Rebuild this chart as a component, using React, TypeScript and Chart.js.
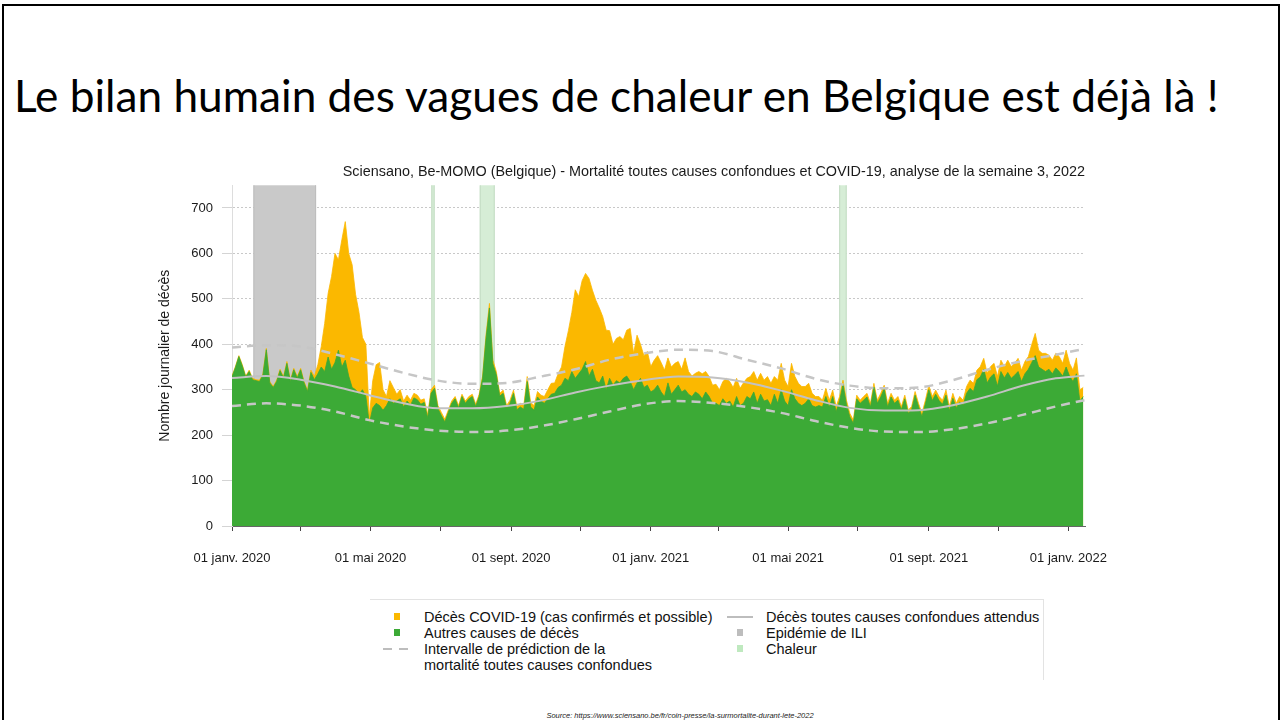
import { useEffect, useRef } from "react";
import { Chart, registerables } from "chart.js";

Chart.register(...registerables);

// ---------- DATA ----------
// Daily deaths sampled every 3 days starting 01 Jan 2020 (day 0)
const SAMPLE_START_DAY = 0;
const SAMPLE_STEP_DAYS = 3;

// Total deaths (top of yellow area = COVID-19 + other causes)
const totalDeces = [
  330, 351, 375, 355, 330, 343, 325, 322, 321, 335,
  391, 318, 307, 321, 345, 329, 362, 321, 347, 329,
  347, 318, 299, 343, 329, 355, 395, 446, 512, 549,
  600, 586, 630, 670, 600, 575, 510, 470, 415, 400,
  240, 320, 355, 360, 300, 285, 320, 305, 290, 300,
  275, 288, 277, 292, 288, 277, 280, 245, 300, 310,
  265, 250, 235, 255, 275, 285, 265, 290, 275, 285,
  290, 268, 290, 330, 420, 490, 365, 340, 292, 299,
  265, 277, 299, 263, 270, 265, 329, 272, 265, 296,
  288, 285, 300, 314, 315, 335, 350, 395, 430, 470,
  520, 505, 540, 556, 545, 519, 497, 480, 461, 431,
  430, 400, 413, 417, 410, 431, 435, 380, 420, 400,
  375, 384, 351, 365, 375, 360, 343, 370, 350, 358,
  362, 345, 370, 340, 330, 336, 340, 335, 340, 329,
  310, 312, 300, 318, 325, 318, 305, 325, 303, 315,
  325, 329, 340, 321, 336, 321, 329, 314, 329, 321,
  358, 321, 307, 358, 329, 314, 307, 307, 314, 292,
  285, 285, 277, 303, 277, 299, 263, 285, 321, 277,
  248, 233, 288, 277, 285, 292, 270, 314, 277, 292,
  310, 270, 292, 277, 285, 263, 288, 255, 263, 296,
  270, 248, 277, 310, 285, 299, 285, 277, 299, 263,
  292, 270, 285, 277, 307, 321, 314, 343, 351, 369,
  336, 351, 358, 329, 365, 351, 365, 351, 358, 369,
  343, 362, 373, 400, 424, 387, 380, 380, 376, 365,
  380, 373, 358, 387, 358, 343, 370, 300, 305,
];

// Other causes of death (green area)
const autresCauses = [
  328, 349, 373, 352, 328, 340, 322, 320, 318, 332,
  388, 315, 305, 318, 342, 326, 358, 318, 344, 326,
  344, 315, 296, 338, 322, 335, 350, 340, 372, 345,
  360, 387, 350, 365, 330, 305, 300, 290, 300, 285,
  225, 260, 270, 265, 255, 265, 280, 270, 275, 280,
  262, 275, 266, 282, 278, 268, 272, 238, 292, 303,
  258, 243, 229, 250, 270, 280, 260, 285, 270, 280,
  285, 263, 285, 325, 413, 480, 357, 333, 286, 292,
  259, 270, 292, 256, 262, 257, 318, 262, 255, 284,
  275, 270, 280, 290, 292, 305, 310, 325, 320, 340,
  325, 335, 345, 362, 330, 345, 320, 315, 330, 300,
  325, 310, 320, 315, 325, 330, 318, 300, 315, 325,
  305, 310, 295, 300, 310, 295, 285, 315, 290, 300,
  310, 295, 300, 290, 285, 295, 290, 280, 295, 285,
  270, 270, 265, 280, 270, 275, 262, 285, 265, 270,
  285, 280, 295, 270, 290, 275, 278, 265, 290, 270,
  300, 275, 265, 300, 280, 270, 265, 270, 280, 265,
  262, 265, 262, 285, 262, 285, 252, 275, 312, 268,
  240, 226, 280, 270, 277, 284, 262, 306, 270, 284,
  302, 262, 284, 270, 277, 256, 280, 248, 256, 288,
  263, 241, 269, 300, 276, 290, 276, 268, 288, 254,
  281, 260, 273, 266, 292, 303, 296, 322, 328, 345,
  315, 328, 335, 308, 340, 326, 338, 325, 332, 340,
  318, 335, 345, 360, 375, 350, 345, 340, 345, 335,
  348, 340, 330, 350, 330, 318, 335, 275, 285,
];

// Smooth baseline curves
const curveDays = [0, 30, 60, 90, 120, 150, 180, 210, 240, 270, 300, 330, 360, 390, 420, 450, 480, 510, 540, 570, 600, 630, 660, 690, 720, 745];
const decesAttendus = [326, 330, 322, 307, 288, 270, 259, 259, 264, 276, 294, 309, 321, 329, 327, 316, 298, 277, 260, 254, 255, 266, 285, 308, 325, 331];
const borneSuperieure = [393, 398, 395, 378, 358, 337, 320, 313, 315, 329, 345, 366, 380, 388, 385, 366, 347, 324, 309, 303, 305, 321, 344, 363, 377, 390];
const borneInferieure = [264, 270, 265, 252, 233, 219, 210, 207, 210, 220, 235, 252, 268, 275, 271, 262, 249, 231, 216, 208, 207, 213, 226, 244, 263, 277];

// Shaded periods (in days since 01 Jan 2020)
const periodesILI = [[18.7, 73.5]];
const periodesChaleur = [[174.2, 177.1], [216.5, 229.6], [530.7, 537.2]];

// Axes
const xMaxDay = 745.5;
const tickDays = [0, 60, 121, 182, 244, 305, 366, 425, 486, 547, 609, 670, 731];
const tickLabels = ["01 janv. 2020", "", "01 mai 2020", "", "01 sept. 2020", "", "01 janv. 2021", "", "01 mai 2021", "", "01 sept. 2021", "", "01 janv. 2022"];
const yTicks = [0, 100, 200, 300, 400, 500, 600, 700];
const yMax = 750;

const TITRE_SLIDE = "Le bilan humain des vagues de chaleur en Belgique est déjà là !";
const TITRE_GRAPHE = "Sciensano, Be-MOMO (Belgique) - Mortalité toutes causes confondues et COVID-19, analyse de la semaine 3, 2022";
const TITRE_Y = "Nombre journalier de décès";
const SOURCE = "Source: https://www.sciensano.be/fr/coin-presse/la-surmortalite-durant-lete-2022";

// ---------- COLOURS ----------
const JAUNE = "#fbb800";
const VERT = "#3caa36";
const GRIS_LIGNE = "#c2c2c2";
const GRIS_ILI = "#c9c9c9";
const VERT_CHALEUR = "#d6edd6";

const FONT = "'Liberation Sans', Arial, sans-serif";

const toPoints = (vals: number[]) =>
  vals.map((v, i) => ({ x: SAMPLE_START_DAY + i * SAMPLE_STEP_DAYS, y: v }));
const curvePoints = (vals: number[]) => vals.map((v, i) => ({ x: curveDays[i], y: v }));

const bandsPlugin = {
  id: "bands",
  beforeDatasetsDraw(chart: any) {
    const { ctx, chartArea, scales } = chart;
    const x = scales.x;
    const drawSet = (periods: number[][], fill: string, stroke: string) => {
      periods.forEach(([a, b]) => {
        const x0 = x.getPixelForValue(a);
        const x1 = x.getPixelForValue(b);
        ctx.fillStyle = fill;
        ctx.fillRect(x0, chartArea.top, x1 - x0, chartArea.bottom - chartArea.top);
        ctx.strokeStyle = stroke;
        ctx.lineWidth = 1;
        ctx.beginPath();
        ctx.moveTo(x0 + 0.5, chartArea.top);
        ctx.lineTo(x0 + 0.5, chartArea.bottom);
        ctx.moveTo(x1 - 0.5, chartArea.top);
        ctx.lineTo(x1 - 0.5, chartArea.bottom);
        ctx.stroke();
      });
    };
    ctx.save();
    drawSet(periodesILI, GRIS_ILI, "#bdbdbd");
    drawSet(periodesChaleur, VERT_CHALEUR, "#c3dcc3");
    ctx.restore();
  },
};

type LegendItem = { marker: "square" | "line" | "dash" | "none"; color: string; text: string };
const legendeGauche: LegendItem[] = [
  { marker: "square", color: JAUNE, text: "Décès COVID-19 (cas confirmés et possible)" },
  { marker: "square", color: VERT, text: "Autres causes de décès" },
  { marker: "dash", color: "#bdbdbd", text: "Intervalle de prédiction de la" },
  { marker: "none", color: "", text: "mortalité toutes causes confondues" },
];
const legendeDroite: LegendItem[] = [
  { marker: "line", color: "#bdbdbd", text: "Décès toutes causes confondues attendus" },
  { marker: "square", color: "#bdbdbd", text: "Epidémie de ILI" },
  { marker: "square", color: "#bfe9bf", text: "Chaleur" },
];

function LegendColumn({ items, markerX, textX }: { items: LegendItem[]; markerX: number; textX: number }) {
  const rowTop = 608.5;
  const rowH = 16;
  return (
    <>
      {items.map((it, i) => {
        const cy = rowTop + i * rowH + 8;
        let marker = null;
        if (it.marker === "square") {
          marker = <div style={{ position: "absolute", left: markerX - 3, top: cy - 4, width: 6, height: 7, background: it.color }} />;
        } else if (it.marker === "line") {
          marker = <div style={{ position: "absolute", left: markerX - 13, top: cy - 1, width: 26, height: 2, background: it.color }} />;
        } else if (it.marker === "dash") {
          marker = (
            <>
              <div style={{ position: "absolute", left: markerX - 14, top: cy - 1, width: 9, height: 2, background: it.color }} />
              <div style={{ position: "absolute", left: markerX + 2, top: cy - 1, width: 9, height: 2, background: it.color }} />
            </>
          );
        }
        return (
          <div key={i}>
            {marker}
            <div style={{ position: "absolute", left: textX, top: cy - 8, height: 16, lineHeight: "16px", fontSize: 14.5, color: "#111", whiteSpace: "nowrap", fontFamily: FONT }}>
              {it.text}
            </div>
          </div>
        );
      })}
    </>
  );
}

export default function App() {
  const ref = useRef<HTMLCanvasElement>(null);

  useEffect(() => {
    if (!ref.current) return;
    Chart.defaults.font.family = FONT;
    const chart = new Chart(ref.current, {
      type: "line",
      data: {
        datasets: [
          {
            label: "Décès COVID-19 (cas confirmés et possible)",
            data: toPoints(totalDeces),
            borderColor: JAUNE,
            backgroundColor: JAUNE,
            borderWidth: 0.8,
            fill: "origin",
            pointRadius: 0,
            tension: 0,
            order: 10,
          },
          {
            label: "Autres causes de décès",
            data: toPoints(autresCauses),
            borderColor: VERT,
            backgroundColor: VERT,
            borderWidth: 0.8,
            fill: "origin",
            pointRadius: 0,
            tension: 0,
            order: 9,
          },
          {
            label: "Décès toutes causes confondues attendus",
            data: curvePoints(decesAttendus),
            borderColor: GRIS_LIGNE,
            borderWidth: 2,
            fill: false,
            pointRadius: 0,
            cubicInterpolationMode: "monotone",
            order: 3,
          },
          {
            label: "Borne supérieure",
            data: curvePoints(borneSuperieure),
            borderColor: "#c6c6c6",
            borderWidth: 2.5,
            borderDash: [9, 6],
            fill: false,
            pointRadius: 0,
            cubicInterpolationMode: "monotone",
            order: 2,
          },
          {
            label: "Borne inférieure",
            data: curvePoints(borneInferieure),
            borderColor: "#c6c6c6",
            borderWidth: 2.5,
            borderDash: [9, 6],
            fill: false,
            pointRadius: 0,
            cubicInterpolationMode: "monotone",
            order: 1,
          },
        ],
      },
      options: {
        animation: false,
        responsive: false,
        maintainAspectRatio: false,
        layout: { padding: { left: 0, right: 45, top: 0, bottom: 0 } },
        plugins: {
          legend: { display: false },
          tooltip: { enabled: false },
          title: {
            display: true,
            text: TITRE_GRAPHE,
            align: "end",
            color: "#1a1a1a",
            font: { family: FONT, size: 14.4, weight: "normal" },
            padding: { top: 8, bottom: 5 },
          },
        },
        scales: {
          x: {
            type: "linear",
            min: 0,
            max: xMaxDay,
            afterBuildTicks: (s: any) => {
              s.ticks = tickDays.map((v) => ({ value: v }));
            },
            afterFit: (s: any) => {
              s.height = 49;
            },
            ticks: {
              autoSkip: false,
              maxRotation: 0,
              minRotation: 0,
              padding: 20,
              color: "#1a1a1a",
              font: { family: FONT, size: 13 },
              callback: (_v: any, i: number) => tickLabels[i],
            },
            grid: {
              drawOnChartArea: false,
              drawTicks: true,
              tickLength: 5,
              tickColor: "#444444",
            },
            border: { color: "#666666", width: 1 },
          },
          y: {
            min: 0,
            max: yMax,
            afterBuildTicks: (s: any) => {
              s.ticks = yTicks.map((v) => ({ value: v }));
            },
            afterFit: (s: any) => {
              s.width = 82;
            },
            ticks: {
              padding: 9,
              color: "#1a1a1a",
              font: { family: FONT, size: 13 },
            },
            grid: {
              color: "#c8c8c8",
              lineWidth: 1,
              tickColor: "#d4d4d4",
              tickLength: 10,
              tickBorderDash: [],
            },
            border: { color: "#dddddd", width: 1, dash: [2, 2] },
            title: {
              display: true,
              text: TITRE_Y,
              color: "#1a1a1a",
              font: { family: FONT, size: 14 },
              padding: { top: 7, bottom: 0 },
            },
          },
        },
      },
      plugins: [bandsPlugin],
    } as any);
    return () => chart.destroy();
  }, []);

  return (
    <div style={{ position: "absolute", left: 0, top: 0, width: 1283, height: 720, background: "#ffffff", overflow: "hidden" }}>
      <div style={{ position: "absolute", left: 2, top: 4, width: 1278, height: 760, border: "2px solid #000", boxSizing: "border-box" }} />
      <div style={{ position: "absolute", left: 14, top: 68, fontFamily: "Lato, 'Liberation Sans', sans-serif", fontSize: 44.2, color: "#000", whiteSpace: "nowrap", lineHeight: "normal" }}>
        {TITRE_SLIDE}
      </div>
      <canvas ref={ref} width={980} height={420} style={{ position: "absolute", left: 150, top: 155, width: 980, height: 420 }} />
      <div style={{ position: "absolute", left: 370, top: 599, width: 673, height: 1, background: "#e3e3e3" }} />
      <div style={{ position: "absolute", left: 1043, top: 599, width: 1, height: 81, background: "#e3e3e3" }} />
      <LegendColumn items={legendeGauche} markerX={397} textX={424} />
      <LegendColumn items={legendeDroite} markerX={740} textX={766} />
      <div style={{ position: "absolute", left: 0, width: 1360, top: 711, textAlign: "center", fontFamily: FONT, fontStyle: "italic", fontSize: 7.5, color: "#222", whiteSpace: "nowrap" }}>
        {SOURCE}
      </div>
    </div>
  );
}
